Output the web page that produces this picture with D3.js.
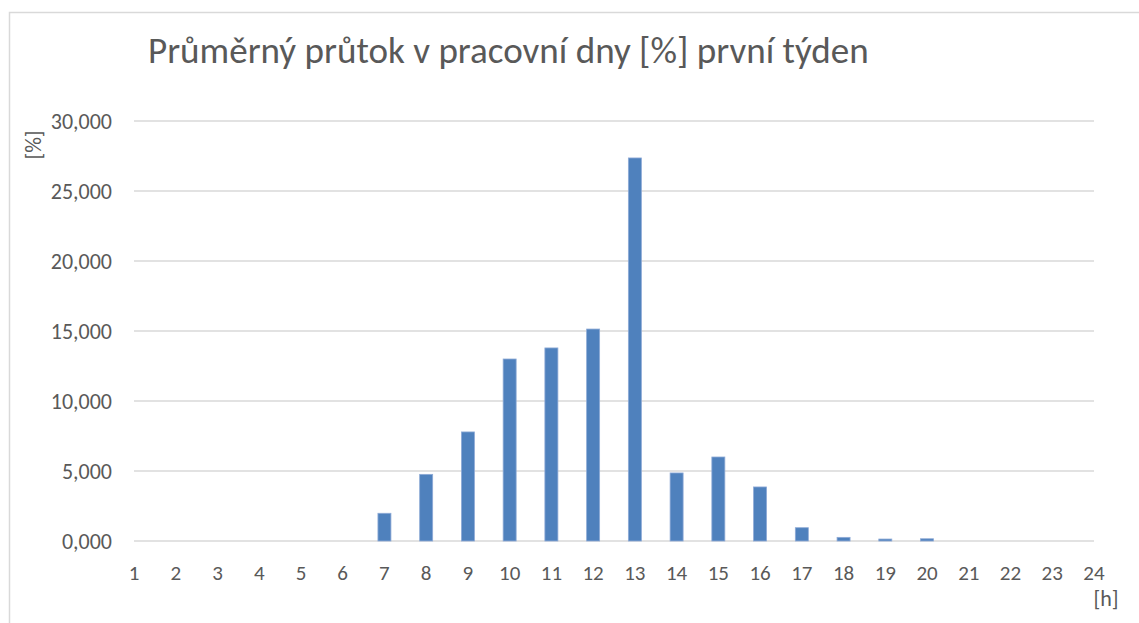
<!DOCTYPE html>
<html>
<head>
  <meta charset="utf-8">
  <script src="https://d3js.org/d3.v7.min.js"></script>
  <style>
    body { margin: 0; background: #fff; }
    text { font-family: Carlito, Calibri, Lato, sans-serif; fill: #595959; }
  </style>
</head>
<body>
<script>
  // hours on the x axis
  var hours = d3.range(1, 25);
  // average flow per hour [%]
  var flow = [0, 0, 0, 0, 0, 0, 1.98, 4.76, 7.79, 13.0, 13.79, 15.14,
              27.36, 4.86, 6.0, 3.86, 0.95, 0.26, 0.14, 0.16, 0, 0, 0, 0];
  var yTicks = [0, 5, 10, 15, 20, 25, 30];

  var titleText = "Průměrný průtok v pracovní dny [%] první týden";

  var W = 1139, H = 623;
  var svg = d3.select("body").append("svg")
      .attr("width", W).attr("height", H);

  // chart frame (only left and top edges visible)
  svg.append("path")
      .attr("d", "M9.5," + H + "V12.5H" + W)
      .attr("fill", "none")
      .attr("stroke", "#d9d9d9")
      .attr("stroke-width", 1.5);

  var x = d3.scalePoint().domain(hours).range([134, 1094]);
  var y = d3.scaleLinear().domain([0, 30]).range([541, 121]);

  // 5 -> "5,000", 30 -> "30,000"
  var label = function (v) {
    return d3.format(".3f")(v).replace(".", ",");
  };

  // gridlines
  svg.append("g").selectAll("line")
    .data(yTicks).enter().append("line")
      .attr("x1", x(1)).attr("x2", x(24))
      .attr("y1", function (d) { return y(d); })
      .attr("y2", function (d) { return y(d); })
      .attr("stroke", "#d9d9d9")
      .attr("stroke-width", 1.5);

  // y labels
  svg.append("g").selectAll("text")
    .data(yTicks).enter().append("text")
      .attr("x", 112)
      .attr("y", function (d) { return y(d); })
      .attr("dy", "0.35em")
      .attr("text-anchor", "end")
      .style("font-size", "22px")
      .text(label);

  // bars
  var bw = 13;
  svg.append("g").selectAll("rect")
    .data(hours).enter().append("rect")
      .attr("x", function (d) { return x(d) - bw / 2; })
      .attr("y", function (d, i) { return y(flow[i]); })
      .attr("width", bw)
      .attr("height", function (d, i) { return y(0) - y(flow[i]); })
      .attr("fill", "#4f81bd")
      .attr("stroke", function (d, i) { return flow[i] > 0 ? "#8eaad6" : "none"; })
      .attr("stroke-width", 0.8);

  // x labels
  svg.append("g").selectAll("text")
    .data(hours).enter().append("text")
      .attr("x", function (d) { return x(d); })
      .attr("y", 580)
      .attr("text-anchor", "middle")
      .style("font-size", "21px")
      .text(function (d) { return d; });

  // axis titles
  svg.append("text")
      .attr("transform", "translate(41,145) rotate(-90)")
      .attr("text-anchor", "middle")
      .style("font-size", "22px")
      .text("[%]");

  svg.append("text")
      .attr("x", 1106).attr("y", 606)
      .attr("text-anchor", "middle")
      .style("font-size", "22px")
      .text("[h]");

  // title, fitted to the width it has in the reference
  var title = svg.append("text")
      .attr("x", 148).attr("y", 63)
      .style("font-size", "30px")
      .text(titleText);
  var tw = title.node().getComputedTextLength();
  title.style("font-size", (30 * 722 / tw).toFixed(1) + "px");
</script>
</body>
</html>
